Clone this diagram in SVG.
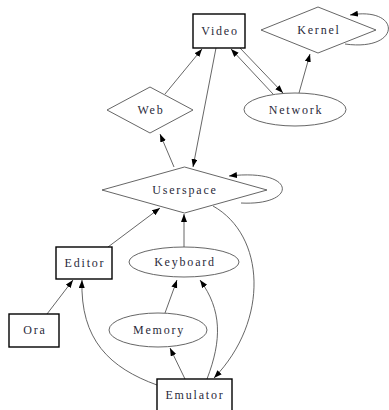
<svg xmlns="http://www.w3.org/2000/svg" width="389" height="410" viewBox="0 0 389 410">
<style>
.box{fill:#fff;stroke:#000;stroke-width:1.4}
.shp{fill:#fff;stroke:#555;stroke-width:0.9}
.lbl{font-family:"Liberation Serif",serif;font-size:12px;letter-spacing:1.8px;fill:#2a2a3a;text-anchor:middle}
.e{fill:none;stroke:#555;stroke-width:0.9;marker-end:url(#ah)}
</style>
<defs>
<marker id="ah" markerUnits="userSpaceOnUse" markerWidth="9" markerHeight="7" refX="8" refY="3" orient="auto">
<path d="M0,0 L8,3 L0,6 z" fill="#000"/>
</marker>
</defs>
<rect width="389" height="410" fill="#fff"/>
<g id="connectors">
<path class="e" d="M165,94 L202,49"/>
<path class="e" d="M216,48 L193,167"/>
<path class="e" d="M273,94 L231,49"/>
<path class="e" d="M240,48 L283,93"/>
<path class="e" d="M299,93 L310,54"/>
<path class="e" d="M345,44 C402,52 402,6 350,15"/>
<path class="e" d="M174,167 L160,134"/>
<path class="e" d="M241,203 C298,206 298,168 229,176"/>
<path class="e" d="M108,247 L160,208"/>
<path class="e" d="M184,247 L184,214"/>
<path class="e" d="M213,206 C265,235 270,320 214,378"/>
<path class="e" d="M47,314 L73,280"/>
<path class="e" d="M165,313 L177,280"/>
<path class="e" d="M185,379 L170,348"/>
<path class="e" d="M207,379 C222,340 222,310 200,280"/>
<path class="e" d="M157,385 C110,368 80,340 82,280"/>
</g>
<g id="Video"><rect class="box" x="193" y="14" width="52" height="34"/><text class="lbl" x="220" y="35">Video</text></g>
<g id="Kernel"><polygon class="shp" points="261,30 318,7 376,30 318,53"/><text class="lbl" x="319" y="34">Kernel</text></g>
<g id="Web"><polygon class="shp" points="107,110 150,87 193,110 150,133"/><text class="lbl" x="151" y="114">Web</text></g>
<g id="Network"><ellipse class="shp" cx="295" cy="109.5" rx="51" ry="16.5"/><text class="lbl" x="296" y="114">Network</text></g>
<g id="Userspace"><polygon class="shp" points="102,190 184.5,167 267,190 184.5,213"/><text class="lbl" x="185" y="194">Userspace</text></g>
<g id="Editor"><rect class="box" x="56" y="247" width="56" height="32"/><text class="lbl" x="85" y="267">Editor</text></g>
<g id="Keyboard"><ellipse class="shp" cx="184" cy="262" rx="55" ry="15"/><text class="lbl" x="185" y="266">Keyboard</text></g>
<g id="Ora"><rect class="box" x="9" y="314" width="50" height="33"/><text class="lbl" x="35" y="334">Ora</text></g>
<g id="Memory"><ellipse class="shp" cx="158" cy="330" rx="49" ry="17"/><text class="lbl" x="159" y="334">Memory</text></g>
<g id="Emulator"><rect class="box" x="157" y="379" width="75" height="35"/><text class="lbl" x="195" y="399">Emulator</text></g>
</svg>
